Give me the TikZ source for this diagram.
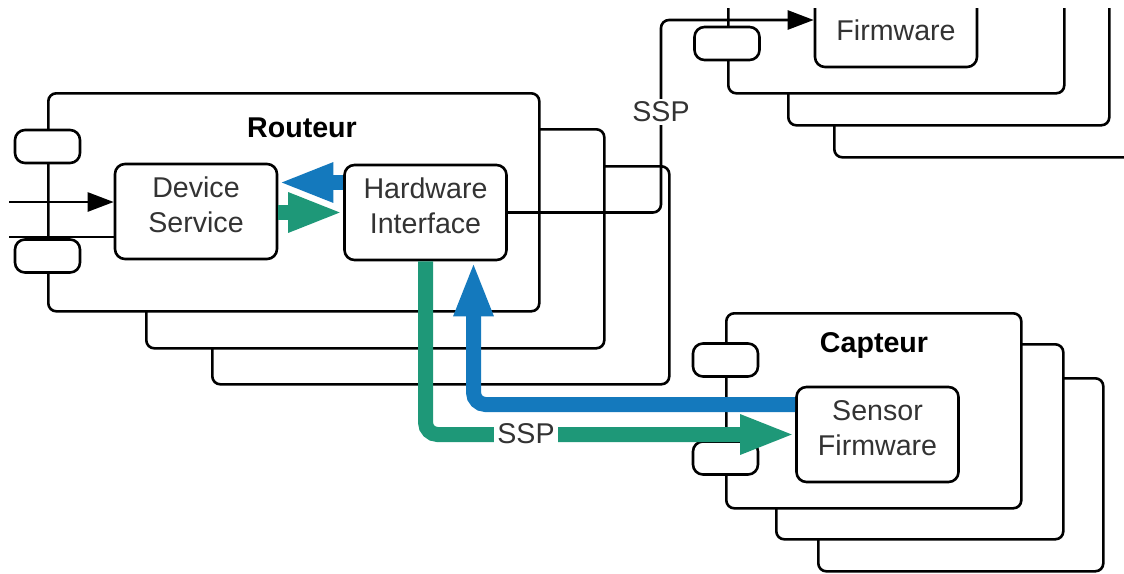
\documentclass[tikz,border=0pt]{standalone}
\usepackage{fontspec}
\setmainfont{Liberation Sans}
\usepackage{tikz}
\usetikzlibrary{arrows.meta,positioning}
\definecolor{sspblue}{RGB}{20,121,189}
\definecolor{sspgreen}{RGB}{30,152,120}
\definecolor{darktext}{RGB}{51,51,51}

\begin{document}
\begin{tikzpicture}[
    x=0.5pt, y=-0.5pt,
    >={Triangle[length=13pt,width=9.5pt]},
    every node/.style={font=\fontsize{14.3}{17.5}\selectfont},
    stack/.style={rectangle, draw=black, fill=white, rounded corners=4pt, line width=1.3pt, inner sep=0pt, anchor=north west},
    port/.style={rectangle, draw=black, fill=white, rounded corners=5pt, line width=1.3pt, inner sep=0pt, minimum width=32.5pt, minimum height=16.5pt},
    box/.style={rectangle, draw=black, fill=white, rounded corners=5pt, line width=1.3pt, align=center, inner sep=0pt, minimum width=81pt, minimum height=47.5pt, text=darktext},
    twoline/.style={text height=21pt, text depth=0pt},
    title/.style={font=\fontsize{14.3}{17.5}\selectfont\bfseries, text=black},
    tag/.style={fill=white, inner sep=1.5pt, text=darktext},
    wire/.style={line width=1.3pt, rounded corners=4pt},
    bluearrow/.style={draw=sspblue, line width=7.5pt, rounded corners=6pt, -{Triangle[length=27.5pt,width=18pt]}},
    greenarrow/.style={draw=sspgreen, line width=7.5pt, rounded corners=6pt, -{Triangle[length=27.5pt,width=18pt]}}
]
    \useasboundingbox (0,0) rectangle (1124,573);
    \clip (9,8) rectangle (1124,573);

    % remote node (top right)
    \node (remC) [stack, minimum width=163.5pt, minimum height=128pt] at (833,-100) {};
    \node (remB) [stack, minimum width=160.5pt, minimum height=112pt] at (787,-100) {};
    \node (remA) [stack, minimum width=168pt, minimum height=96pt] at (727,-100) {};
    \node (remport) [port] at (727,43.5) {};
    \node (fw) [box, minimum height=37pt] at (896,30) {Firmware};

    % router
    \node (rtrC) [stack, minimum width=228.5pt, minimum height=109pt] at (211,165) {};
    \node (rtrB) [stack, minimum width=229pt, minimum height=109.5pt] at (145,128) {};
    \node (rtrA) [stack, minimum width=245.5pt, minimum height=109pt] at (47,92) {};
    \node (rtrport1) [port] at (47.5,146.5) {};
    \node (rtrport2) [port] at (47.5,256) {};
    \node (rtrlbl) [title] at (302,128) {Routeur};
    \node (ds) [box, twoline] at (196,211.5) {Device\\Service};
    \node (hw) [box, twoline] at (425.5,212.5) {Hardware\\Interface};

    % sensor
    \node (capC) [stack, minimum width=142.5pt, minimum height=96.5pt] at (817,377) {};
    \node (capB) [stack, minimum width=143.5pt, minimum height=97.5pt] at (775,343) {};
    \node (capA) [stack, minimum width=147.5pt, minimum height=97.5pt] at (725,312) {};
    \node (capport1) [port] at (725.5,360) {};
    \node (capport2) [port] at (725.5,458) {};
    \node (caplbl) [title] at (874,345) {Capteur};
    \node (sf) [box, twoline] at (877.5,434.5) {Sensor\\Firmware};

    % connectors
    \coordinate (inA) at (9,202);
    \coordinate (inB) at (9,237);
    \coordinate (sspbend) at (661,20);
    \draw[wire, ->] (inA) -- (inA -| ds.west);
    \draw[wire] (inB) -- (inB -| ds.west);
    \draw[wire, ->] (hw.east) -| (sspbend) -- (sspbend -| fw.west);
    \draw[bluearrow] ([yshift=15pt]hw.west) -- ([yshift=15pt]hw.west -| ds.east);
    \draw[greenarrow] (hw.west -| ds.east) -- (hw.west);
    \draw[greenarrow] (hw.south) |- (sf.west);
    \draw[bluearrow] ([yshift=15pt]sf.west) -| ([xshift=24pt]hw.south);

    \node (ssptop) [tag] at (661,112) {SSP};
    \node (sspbot) [tag] at (526,434) {SSP};

\end{tikzpicture}
\end{document}
